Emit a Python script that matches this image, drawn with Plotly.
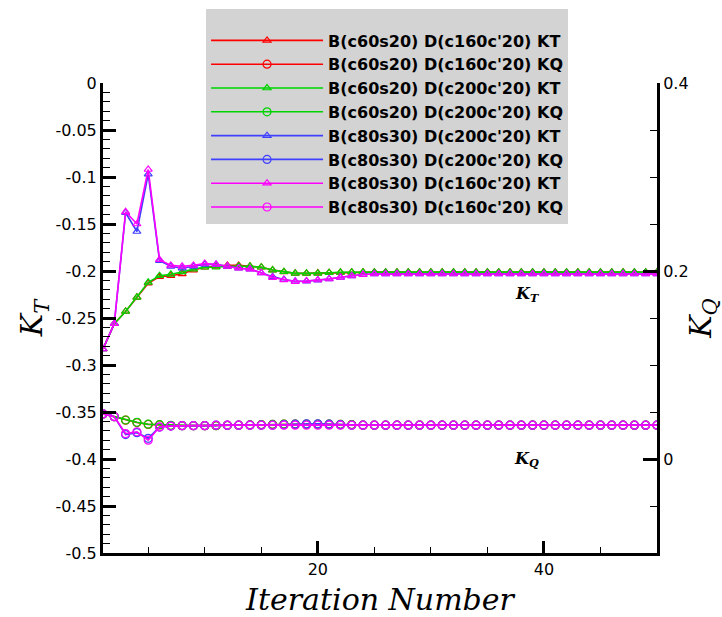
import plotly.graph_objects as go

iterations = list(range(1, 51))

series_names = [
    "B(c60s20) D(c160c'20) KT", "B(c60s20) D(c160c'20) KQ",
    "B(c60s20) D(c200c'20) KT", "B(c60s20) D(c200c'20) KQ",
    "B(c80s30) D(c200c'20) KT", "B(c80s30) D(c200c'20) KQ",
    "B(c80s30) D(c160c'20) KT", "B(c80s30) D(c160c'20) KQ",
]

kt_c60_d160 = [-0.283, -0.256, -0.243, -0.228, -0.213, -0.206, -0.205, -0.203, -0.199, -0.196,
               -0.195, -0.194, -0.194, -0.195, -0.196, -0.199, -0.201, -0.2025, -0.2025, -0.2022,
               -0.2018, -0.2014, -0.2012, -0.2012, -0.2012, -0.2012, -0.2012, -0.2012, -0.2012, -0.2012,
               -0.2012, -0.2012, -0.2012, -0.2012, -0.2012, -0.2012, -0.2012, -0.2012, -0.2012, -0.2012,
               -0.2012, -0.2012, -0.2012, -0.2012, -0.2012, -0.2012, -0.2012, -0.2012, -0.2012, -0.2012]
kq_c60_d160 = [0.048, 0.045, 0.0413, 0.0388, 0.0368, 0.0363, 0.0356, 0.0355, 0.0355, 0.0355,
               0.0355, 0.0358, 0.036, 0.0362, 0.0365, 0.0368, 0.037, 0.037, 0.037, 0.037,
               0.037, 0.0368, 0.0365, 0.036, 0.036, 0.036, 0.036, 0.036, 0.036, 0.036,
               0.036, 0.036, 0.036, 0.036, 0.036, 0.036, 0.036, 0.036, 0.036, 0.036,
               0.036, 0.036, 0.036, 0.036, 0.036, 0.036, 0.036, 0.036, 0.036, 0.036]
kt_c60_d200 = [-0.283, -0.256, -0.243, -0.228, -0.212, -0.205, -0.2035, -0.201, -0.198, -0.196,
               -0.196, -0.195, -0.195, -0.195, -0.196, -0.199, -0.2007, -0.2025, -0.2025, -0.2025,
               -0.2018, -0.2014, -0.2012, -0.2012, -0.2012, -0.2012, -0.2012, -0.2012, -0.2012, -0.2012,
               -0.2012, -0.2012, -0.2012, -0.2012, -0.2012, -0.2012, -0.2012, -0.2012, -0.2012, -0.2012,
               -0.2012, -0.2012, -0.2012, -0.2012, -0.2012, -0.2012, -0.2012, -0.2012, -0.2012, -0.2012]
kq_c60_d200 = [0.048, 0.045, 0.0415, 0.039, 0.037, 0.0365, 0.0358, 0.0355, 0.0355, 0.0355,
               0.0355, 0.0358, 0.036, 0.0362, 0.0365, 0.0368, 0.037, 0.037, 0.037, 0.037,
               0.037, 0.0368, 0.0365, 0.036, 0.036, 0.036, 0.036, 0.036, 0.036, 0.036,
               0.036, 0.036, 0.036, 0.036, 0.036, 0.036, 0.036, 0.036, 0.036, 0.036,
               0.036, 0.036, 0.036, 0.036, 0.036, 0.036, 0.036, 0.036, 0.036, 0.036]
kt_c80_d200 = [-0.283, -0.256, -0.138, -0.158, -0.097, -0.189, -0.195, -0.197, -0.195, -0.193,
               -0.193, -0.195, -0.197, -0.198, -0.202, -0.206, -0.209, -0.211, -0.2108, -0.2098,
               -0.2085, -0.2067, -0.2053, -0.2038, -0.2032, -0.2032, -0.2032, -0.2032, -0.2032, -0.2032,
               -0.2032, -0.2032, -0.2032, -0.2032, -0.2032, -0.2032, -0.2032, -0.2032, -0.2032, -0.2032,
               -0.2032, -0.2032, -0.2032, -0.2032, -0.2032, -0.2032, -0.2032, -0.2032, -0.2032, -0.2032]
kq_c80_d200 = [0.048, 0.045, 0.026, 0.028, 0.022, 0.034, 0.035, 0.0355, 0.0355, 0.0355,
               0.036, 0.036, 0.036, 0.036, 0.036, 0.036, 0.0365, 0.037, 0.0375, 0.0375,
               0.037, 0.0365, 0.036, 0.036, 0.036, 0.036, 0.036, 0.036, 0.036, 0.036,
               0.036, 0.036, 0.036, 0.036, 0.036, 0.036, 0.036, 0.036, 0.036, 0.036,
               0.036, 0.036, 0.036, 0.036, 0.036, 0.036, 0.036, 0.036, 0.036, 0.036]
kt_c80_d160 = [-0.283, -0.256, -0.137, -0.150, -0.092, -0.188, -0.194, -0.195, -0.194, -0.192,
               -0.193, -0.195, -0.197, -0.198, -0.202, -0.207, -0.2095, -0.2112, -0.2106, -0.2096,
               -0.2085, -0.2067, -0.2053, -0.2038, -0.2032, -0.2032, -0.2032, -0.2032, -0.2032, -0.2032,
               -0.2032, -0.2032, -0.2032, -0.2032, -0.2032, -0.2032, -0.2032, -0.2032, -0.2032, -0.2032,
               -0.2032, -0.2032, -0.2032, -0.2032, -0.2032, -0.2032, -0.2032, -0.2032, -0.2032, -0.2032]
kq_c80_d160 = [0.048, 0.045, 0.027, 0.029, 0.020, 0.034, 0.035, 0.0355, 0.0355, 0.0355,
               0.036, 0.036, 0.036, 0.036, 0.036, 0.036, 0.036, 0.036, 0.036, 0.036,
               0.036, 0.036, 0.036, 0.036, 0.036, 0.036, 0.036, 0.036, 0.036, 0.036,
               0.036, 0.036, 0.036, 0.036, 0.036, 0.036, 0.036, 0.036, 0.036, 0.036,
               0.036, 0.036, 0.036, 0.036, 0.036, 0.036, 0.036, 0.036, 0.036, 0.036]

series_values = [kt_c60_d160, kq_c60_d160, kt_c60_d200, kq_c60_d200,
                 kt_c80_d200, kq_c80_d200, kt_c80_d160, kq_c80_d160]
series_colors = ["#FF0000", "#FF0000", "#00D400", "#00D400",
                 "#4040FF", "#4040FF", "#FF00FF", "#FF00FF"]

kt_tickvals = [0, -0.05, -0.1, -0.15, -0.2, -0.25, -0.3, -0.35, -0.4, -0.45, -0.5]
kt_ticktext = ["0", "-0.05", "-0.1", "-0.15", "-0.2", "-0.25", "-0.3", "-0.35", "-0.4", "-0.45", "-0.5"]
kq_tickvals = [0, 0.2, 0.4]
kq_ticktext = ["0", "0.2", "0.4"]
x_tickvals = [20, 40]
x_ticktext = ["20", "40"]

fig = go.Figure()
for name, vals, col in zip(series_names, series_values, series_colors):
    is_kq = name.endswith("KQ")
    fig.add_trace(go.Scatter(
        x=iterations, y=vals, name=name, mode="lines+markers",
        yaxis="y2" if is_kq else "y",
        line=dict(color=col, width=1.6),
        marker=dict(symbol="circle-open" if is_kq else "triangle-up-open",
                    size=8 if is_kq else 7, color=col, line=dict(width=1.2, color=col)),
    ))

tick_font = dict(family="DejaVu Sans", size=16, color="black")
serif = "DejaVu Serif"

fig.update_layout(
    width=722, height=617,
    margin=dict(l=103, r=65, t=83, b=64, autoexpand=False),
    paper_bgcolor="white", plot_bgcolor="white",
    showlegend=True,
    legend=dict(x=0.186, y=1.157, xanchor="left", yanchor="top",
                bgcolor="#D3D3D3", borderwidth=0, itemwidth=112, tracegroupgap=0,
                entrywidth=250, entrywidthmode="pixels",
                title=dict(text=" ", font=dict(size=11)),
                font=dict(family="DejaVu Sans", size=16, color="black", weight="bold")),
    xaxis=dict(range=[1, 50], tickmode="array", tickvals=x_tickvals, ticktext=x_ticktext,
               showline=True, linecolor="black", linewidth=3, mirror=False, automargin=False,
               ticks="inside", ticklen=12, tickwidth=3, tickcolor="black",
               minor=dict(tickmode="linear", tick0=0, dtick=5, ticks="inside", ticklen=6,
                          tickwidth=1, tickcolor="black"),
               showgrid=False, zeroline=False, tickfont=tick_font,
               title=dict(text="<i>Iteration Number</i>", font=dict(family=serif, size=30, color="black"),
                          standoff=14)),
    yaxis=dict(range=[-0.5, 0], tickmode="array", tickvals=kt_tickvals, ticktext=kt_ticktext,
               showline=True, linecolor="black", linewidth=3, automargin=False,
               ticks="inside", ticklen=13, tickwidth=3, tickcolor="black",
               minor=dict(tickmode="linear", tick0=0, dtick=0.01, ticks="inside", ticklen=7,
                          tickwidth=1, tickcolor="black"),
               showgrid=False, zeroline=False, tickfont=tick_font,
               title=dict(text="<i>K<sub>T</sub></i>", font=dict(family=serif, size=30, color="black"),
                          standoff=4)),
    yaxis2=dict(range=[-0.1, 0.4], overlaying="y", side="right", anchor="x", automargin=False,
                tickmode="array", tickvals=kq_tickvals, ticktext=kq_ticktext,
                showline=True, linecolor="black", linewidth=3,
                ticks="inside", ticklen=14, tickwidth=3, tickcolor="black",
                minor=dict(tickmode="linear", tick0=0, dtick=0.05, ticks="inside", ticklen=7,
                           tickwidth=1, tickcolor="black"),
                showgrid=False, zeroline=False, tickfont=tick_font,
                title=dict(text="<i>K<sub>Q</sub></i>", font=dict(family=serif, size=30, color="black"),
                           standoff=8)),
)

fig.add_annotation(x=38.5, y=-0.2255, xref="x", yref="y", text="<b><i>K<sub>T</sub></i></b>",
                   showarrow=False, font=dict(family=serif, size=16, color="black"))
fig.add_annotation(x=38.5, y=-0.401, xref="x", yref="y", text="<b><i>K<sub>Q</sub></i></b>",
                   showarrow=False, font=dict(family=serif, size=16, color="black"))

fig.write_html("out.html")
